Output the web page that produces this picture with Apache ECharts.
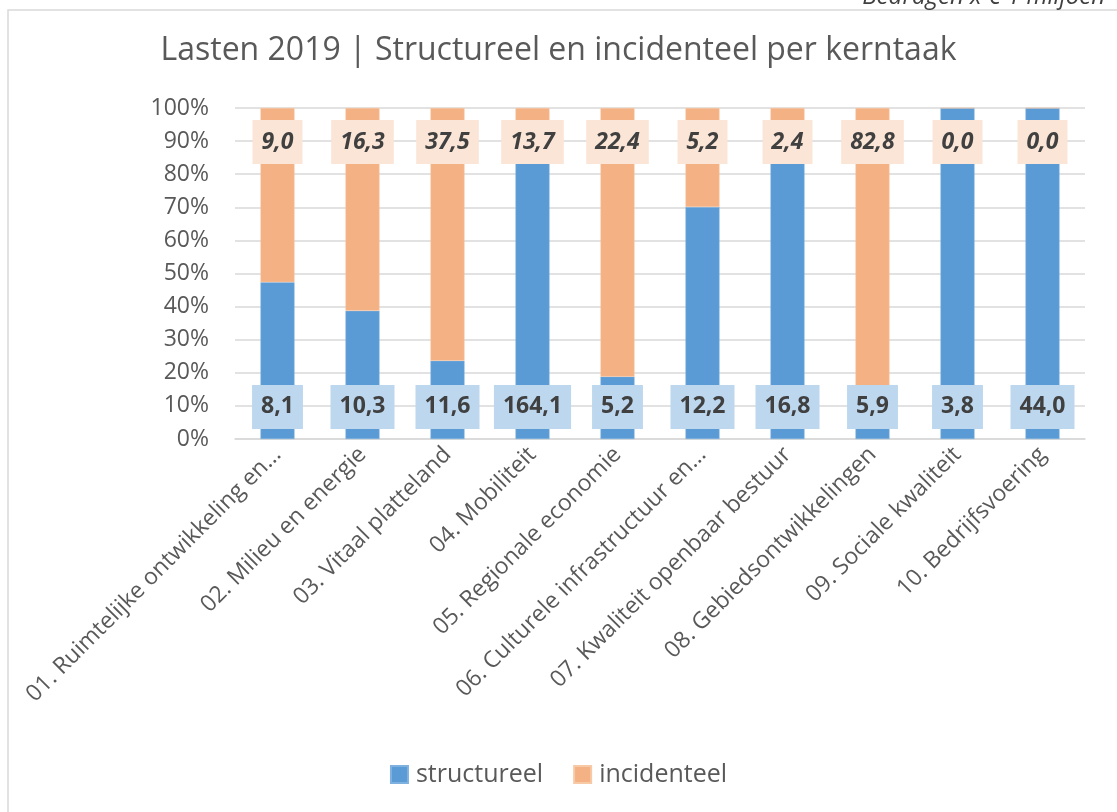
<!DOCTYPE html>
<html><head><meta charset="utf-8">
<script src="https://cdn.jsdelivr.net/npm/echarts@6/dist/echarts.min.js"></script>
<style>html,body{margin:0;padding:0;background:#fff}#c{width:1117px;height:812px}</style>
</head><body><div id="c"></div>
<script>
var categories = ['01. Ruimtelijke ontwikkeling en...','02. Milieu en energie','03. Vitaal platteland','04. Mobiliteit','05. Regionale economie','06. Culturele infrastructuur en...','07. Kwaliteit openbaar bestuur','08. Gebiedsontwikkelingen','09. Sociale kwaliteit','10. Bedrijfsvoering'];
var structureel = [8.1, 10.3, 11.6, 164.1, 5.2, 12.2, 16.8, 5.9, 3.8, 44.0];
var incidenteel = [9.0, 16.3, 37.5, 13.7, 22.4, 5.2, 2.4, 82.8, 0.0, 0.0];
var yTicks = [0,10,20,30,40,50,60,70,80,90,100];

var FONT = '"Open Sans", "Noto Sans", sans-serif';
var pctS = structureel.map(function(v,i){var t=v+incidenteel[i];return t? v/t*100:0;});
var pctI = incidenteel.map(function(v,i){var t=v+structureel[i];return t? v/t*100:0;});
function fmt(v){return v.toFixed(1).replace('.',',');}

function labelSeries(name, vals, yPos, bg, italic){
  return {name:name,type:'custom',silent:true,z:10,
    data:vals.map(function(v,i){return [i,yPos,v];}),
    encode:{x:0,y:1},
    renderItem:function(params, api){
      var pt = api.coord([api.value(0), api.value(1)]);
      return {type:'text',x:pt[0],y:pt[1]+1,z2:10,
        style:{text:fmt(api.value(2)),
          font:(italic?'italic ':'')+'bold 23px '+FONT,
          fill:'#404040',align:'center',verticalAlign:'middle',
          backgroundColor:bg,padding:[9,9,9,9],lineHeight:26}};
    }};
}

var chart = echarts.init(document.getElementById('c'));
chart.setOption({
  animation:false,
  textStyle:{fontFamily:FONT},
  title:{text:'Lasten 2019 | Structureel en incidenteel per kerntaak',left:'center',top:30,
    textStyle:{fontFamily:FONT,fontSize:32,fontWeight:'normal',color:'#595959'}},
  legend:{bottom:20,left:'center',itemWidth:17,itemHeight:17,itemGap:30,icon:'rect',
    textStyle:{fontFamily:FONT,fontSize:25,color:'#595959',padding:[0,0,0,3]},
    data:['structureel','incidenteel']},
  grid:{left:235,right:32,top:108,bottom:373,containLabel:false},
  xAxis:{type:'category',data:categories,
    axisLine:{show:true,lineStyle:{color:'#d9d9d9',width:1.5}},axisTick:{show:false},
    axisLabel:{rotate:45,interval:0,fontFamily:FONT,fontSize:23,color:'#595959',margin:12}},
  yAxis:{type:'value',min:0,max:100,interval:10,
    axisLine:{show:false},axisTick:{show:false},
    splitLine:{lineStyle:{color:'#d9d9d9',width:1.5}},
    axisLabel:{formatter:function(v){return v+'%';},fontFamily:FONT,fontSize:23,color:'#595959',margin:26}},
  graphic:[
    {type:'rect',shape:{x:8,y:10,width:1130,height:830},style:{fill:'none',stroke:'#d9d9d9',lineWidth:1.5},silent:true},
    {type:'text',right:12,top:-15,style:{text:'Bedragen x € 1 miljoen',font:'italic 24px '+FONT,fill:'#404040'},silent:true}
  ],
  series:[
    {name:'structureel',type:'bar',stack:'a',barWidth:34,data:pctS,
      itemStyle:{color:'#5b9bd5',borderColor:'#7fb1e0',borderWidth:0.5}},
    {name:'incidenteel',type:'bar',stack:'a',barWidth:34,data:pctI,
      itemStyle:{color:'#f4b183',borderColor:'#f8c9a6',borderWidth:0.5}},
    labelSeries('lblS', structureel, 10, '#bdd7ee', false),
    labelSeries('lblI', incidenteel, 90, '#fbe5d6', true)
  ]
});
</script></body></html>
